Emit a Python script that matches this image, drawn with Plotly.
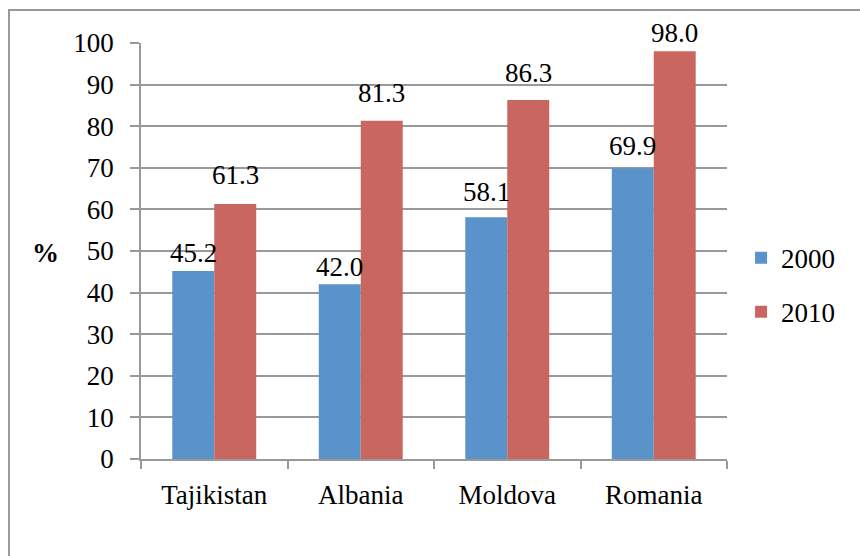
import plotly.graph_objects as go

# Chart data
countries = ["Tajikistan", "Albania", "Moldova", "Romania"]
years = ["2000", "2010"]
values_2000 = [45.2, 42.0, 58.1, 69.9]
values_2010 = [61.3, 81.3, 86.3, 98.0]
y_ticks = [0, 10, 20, 30, 40, 50, 60, 70, 80, 90, 100]

# Styling
colors = {"2000": "#5A93C9", "2010": "#C9665F"}
grid_color = "#999999"
font_family = "Liberation Serif"
font_size = 27
bargap = 0.427
# vertical pixel offset of each value label centre above its bar top
label_lift = {"2000": [18, 17, 25, 22], "2010": [29, 28, 27, 18]}

W, H = 860, 556
margin = dict(l=141, r=133, t=43, b=97)
plot_w = W - margin["l"] - margin["r"]
plot_h = H - margin["t"] - margin["b"]

fig = go.Figure()
series = {"2000": values_2000, "2010": values_2010}
for yr in years:
    fig.add_trace(go.Bar(
        x=countries, y=series[yr], name=yr,
        marker=dict(color=colors[yr], line=dict(width=0)),
        legendgroup=yr,
    ))

# value labels above each bar
half = (1 - bargap) / 4
for k, yr in enumerate(years):
    dx = -half if k == 0 else half
    for i, v in enumerate(series[yr]):
        fig.add_annotation(
            x=i + dx, y=v, text=f"{v:.1f}", showarrow=False,
            xanchor="center", yanchor="middle", yshift=label_lift[yr][i],
            font=dict(family=font_family, size=font_size, color="black"),
        )

# axis unit label
fig.add_annotation(
    x=(45 - margin["l"]) / plot_w, y=(H - margin["b"] - 253) / plot_h,
    xref="paper", yref="paper", text="<b>%</b>", showarrow=False,
    xanchor="center", yanchor="middle",
    font=dict(family=font_family, size=font_size, color="black"),
)

# outer chart frame (left and top edges visible)
fx = (9 - margin["l"]) / plot_w
fy = 1 + (margin["t"] - 10) / plot_h
fig.add_shape(type="path", xref="paper", yref="paper",
              path=f"M {fx} -1 L {fx} {fy} L 2 {fy}",
              line=dict(color="#9a9a9a", width=2))

fig.update_layout(
    width=W, height=H, margin=margin,
    paper_bgcolor="white", plot_bgcolor="white",
    barmode="group", bargap=bargap, bargroupgap=0,
    font=dict(family=font_family, size=font_size, color="black"),
    showlegend=True,
    legend=dict(
        x=1.024, xanchor="left", y=0.418, yanchor="middle",
        font=dict(family=font_family, size=font_size),
        tracegroupgap=16, bgcolor="rgba(0,0,0,0)",
    ),
)
fig.update_xaxes(
    type="category", showgrid=False, showline=True, linecolor=grid_color,
    linewidth=1.5, ticks="outside", tickson="boundaries", ticklen=8,
    tickcolor=grid_color, tickwidth=1.5, ticklabelstandoff=11,
)
fig.update_yaxes(
    range=[0, 100], tickvals=y_ticks, showgrid=True, gridcolor=grid_color,
    gridwidth=1.5, showline=True, linecolor=grid_color, linewidth=1.5,
    ticks="outside", ticklen=9, tickcolor=grid_color, tickwidth=1.5,
    ticklabelstandoff=11, zeroline=False,
)

fig.write_html("out.html")
